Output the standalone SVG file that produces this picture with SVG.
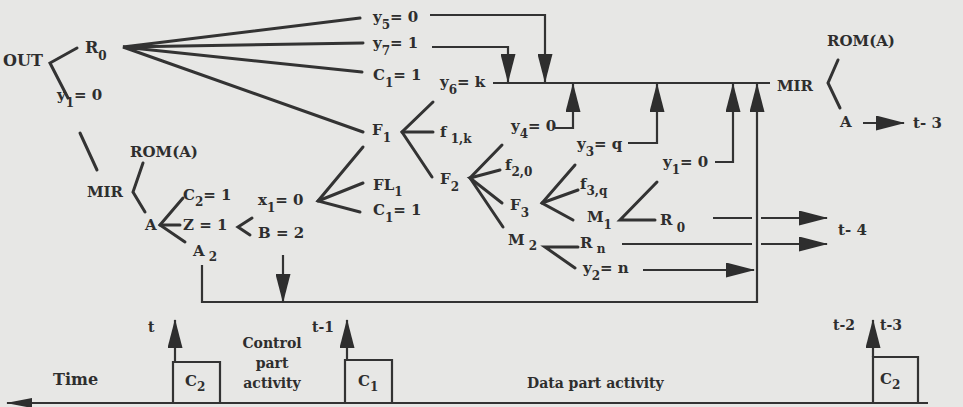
<svg xmlns="http://www.w3.org/2000/svg" width="963" height="407" viewBox="0 0 963 407">
<defs>
<style>
text{font-family:"DejaVu Serif","Liberation Serif",serif;font-weight:bold;font-size:15px;fill:#2e2e2e}
.s{font-size:12px}
.b{font-size:14px}
.ln{stroke:#333;stroke-width:2.2;fill:none}
.fan{stroke:#333;stroke-width:3;fill:none;stroke-linecap:round;stroke-linejoin:miter}
</style>
<marker id="ah" viewBox="0 0 29 15" markerWidth="29" markerHeight="15" refX="28" refY="7.5" orient="auto" markerUnits="userSpaceOnUse"><path d="M0,0 L29,7.5 L0,15 Z" fill="#2e2e2e"/></marker>
<marker id="ahs" viewBox="0 0 26 10" markerWidth="26" markerHeight="10" refX="25" refY="5" orient="auto" markerUnits="userSpaceOnUse"><path d="M0,0 L26,5 L0,10 Z" fill="#2e2e2e"/></marker>
</defs>
<rect width="963" height="407" fill="#e7e7e5"/>

<g id="connectors">
<polyline class="fan" points="77,48 50,63 68,98"/>
<line class="fan" x1="80" y1="133" x2="97" y2="170"/>
<polyline class="fan" points="360,18 123,47 363,43"/>
<polyline class="fan" points="362,72 123,47 363,132"/>
<polyline class="ln" points="430,15 545,15 545,82" marker-end="url(#ah)"/>
<polyline class="ln" points="432,47 508,47 508,82" marker-end="url(#ah)"/>
<line class="ln" x1="493" y1="83" x2="770" y2="83"/>
<polyline class="ln" points="555,128 573,128 573,84" marker-end="url(#ah)"/>
<polyline class="ln" points="628,143 657,143 657,84" marker-end="url(#ah)"/>
<polyline class="ln" points="715,162 733,162 733,84" marker-end="url(#ah)"/>
<polyline class="ln" points="202,265 202,302 757,302 757,84" marker-end="url(#ah)"/>
<line class="ln" x1="283" y1="255" x2="283" y2="302" marker-end="url(#ah)"/>
<line class="ln" x1="643" y1="270" x2="754" y2="270" marker-end="url(#ah)"/>
<line class="ln" x1="713" y1="218" x2="752" y2="218"/>
<line class="ln" x1="761" y1="218" x2="827" y2="218" marker-end="url(#ah)"/>
<line class="ln" x1="622" y1="244" x2="752" y2="244"/>
<line class="ln" x1="761" y1="244" x2="827" y2="244" marker-end="url(#ah)"/>
<polyline class="fan" points="433,102 402,132 432,177"/>
<line class="fan" x1="402" y1="132" x2="433" y2="132"/>
<polyline class="fan" points="502,145 470,178 503,227"/>
<polyline class="fan" points="500,170 470,178 502,203"/>
<polyline class="fan" points="575,165 542,203 573,220"/>
<line class="fan" x1="542" y1="203" x2="578" y2="190"/>
<polyline class="fan" points="657,182 620,220 655,220"/>
<polyline class="fan" points="578,247 545,247 575,268"/>
<polyline class="fan" points="363,147 318,201 360,212"/>
<line class="fan" x1="318" y1="201" x2="363" y2="183"/>
<polyline class="fan" points="252,218 238,227 250,235"/>
<polyline class="fan" points="183,198 160,225 185,242"/>
<line class="fan" x1="160" y1="225" x2="180" y2="225"/>
<polyline class="fan" points="143,163 133,192 145,212"/>
<polyline class="fan" points="838,60 828,83 840,108"/>
<line class="ln" x1="863" y1="123" x2="904" y2="123" marker-end="url(#ah)"/>
<line class="ln" x1="928" y1="403" x2="7" y2="403" marker-end="url(#ahs)"/>
<line class="ln" x1="175" y1="362" x2="175" y2="320" marker-end="url(#ah)"/>
<line class="ln" x1="347" y1="360" x2="347" y2="320" marker-end="url(#ah)"/>
<line class="ln" x1="873" y1="357" x2="873" y2="320" marker-end="url(#ah)"/>
</g>

<g id="out"><text x="3" y="66" style="font-size:16px">OUT</text></g>
<g id="r0-top"><text x="85" y="53" style="font-size:16px">R<tspan class="s" dy="7">0</tspan></text></g>
<g id="y1-left"><text x="57" y="100">y<tspan class="s" dy="7">1</tspan><tspan dy="-7">= 0</tspan></text></g>
<g id="y5"><text x="373" y="22">y<tspan class="s" dy="7">5</tspan><tspan dy="-7">= 0</tspan></text></g>
<g id="y7"><text x="373" y="48">y<tspan class="s" dy="7">7</tspan><tspan dy="-7">= 1</tspan></text></g>
<g id="c1-top"><text x="373" y="80">C<tspan class="s" dy="7">1</tspan><tspan dy="-7">= 1</tspan></text></g>
<g id="y6"><text x="440" y="87">y<tspan class="s" dy="7">6</tspan><tspan dy="-7">= k</tspan></text></g>
<g id="f1"><text x="372" y="135">F<tspan class="s" dy="7">1</tspan></text></g>
<g id="f1k"><text x="440" y="137">f<tspan class="s" dy="6"> 1,k</tspan></text></g>
<g id="y4"><text x="511" y="131">y<tspan class="s" dy="7">4</tspan><tspan dy="-7">= 0</tspan></text></g>
<g id="f2"><text x="440" y="184">F<tspan class="s" dy="7">2</tspan></text></g>
<g id="f20"><text x="505" y="170">f<tspan class="s" dy="6">2,0</tspan></text></g>
<g id="y3"><text x="577" y="149">y<tspan class="s" dy="7">3</tspan><tspan dy="-7">= q</tspan></text></g>
<g id="f3q"><text x="580" y="189">f<tspan class="s" dy="6">3,q</tspan></text></g>
<g id="f3"><text x="510" y="210">F<tspan class="s" dy="7">3</tspan></text></g>
<g id="m1"><text x="587" y="222">M<tspan class="s" dy="7">1</tspan></text></g>
<g id="y1-right"><text x="663" y="167">y<tspan class="s" dy="7">1</tspan><tspan dy="-7">= 0</tspan></text></g>
<g id="r0-right"><text x="660" y="225">R<tspan class="s" dy="7"> 0</tspan></text></g>
<g id="m2"><text x="508" y="245">M<tspan class="s" dy="5"> 2</tspan></text></g>
<g id="rn"><text x="580" y="248">R<tspan class="s" dy="5"> n</tspan></text></g>
<g id="y2"><text x="583" y="273">y<tspan class="s" dy="7">2</tspan><tspan dy="-7">= n</tspan></text></g>
<g id="t4"><text x="838" y="235">t- 4</text></g>
<g id="rom-right"><text x="827" y="46">ROM(A)</text></g>
<g id="mir-right"><text x="777" y="91">MIR</text></g>
<g id="a-right"><text x="840" y="127">A</text></g>
<g id="t3-top"><text x="913" y="128">t- 3</text></g>
<g id="rom-left"><text x="130" y="157">ROM(A)</text></g>
<g id="mir-left"><text x="87" y="197">MIR</text></g>
<g id="a-left"><text x="145" y="230">A</text></g>
<g id="c2"><text x="183" y="200">C<tspan class="s" dy="6">2</tspan><tspan dy="-6">= 1</tspan></text></g>
<g id="z"><text x="183" y="230">Z = 1</text></g>
<g id="a2"><text x="193" y="256">A<tspan class="s" dy="5"> 2</tspan></text></g>
<g id="x1"><text x="258" y="205">x<tspan class="s" dy="7">1</tspan><tspan dy="-7">= 0</tspan></text></g>
<g id="b"><text x="258" y="238">B = 2</text></g>
<g id="fl1"><text x="373" y="190">FL<tspan class="s" dy="6">1</tspan></text></g>
<g id="c1-mid"><text x="373" y="215">C<tspan class="s" dy="7">1</tspan><tspan dy="-7">= 1</tspan></text></g>

<g id="timeline">
<polyline class="ln" points="173,403 173,362 220,362 220,403"/>
<polyline class="ln" points="345,403 345,360 392,360 392,403"/>
<polyline class="ln" points="873,403 873,357 918,357 918,403"/>
<text class="b" x="148" y="332">t</text>
<text class="b" x="312" y="332">t-1</text>
<text class="b" x="272" y="348" text-anchor="middle">Control</text>
<text class="b" x="272" y="368" text-anchor="middle">part</text>
<text class="b" x="272" y="388" text-anchor="middle">activity</text>
<text x="53" y="385" style="font-size:16px">Time</text>
<text x="185" y="386">C<tspan class="s" dy="5">2</tspan></text>
<text x="358" y="386">C<tspan class="s" dy="5">1</tspan></text>
<text class="b" x="527" y="388">Data part activity</text>
<text class="b" x="833" y="330">t-2</text>
<text class="b" x="880" y="330">t-3</text>
<text x="880" y="384">C<tspan class="s" dy="5">2</tspan></text>
</g>
</svg>
